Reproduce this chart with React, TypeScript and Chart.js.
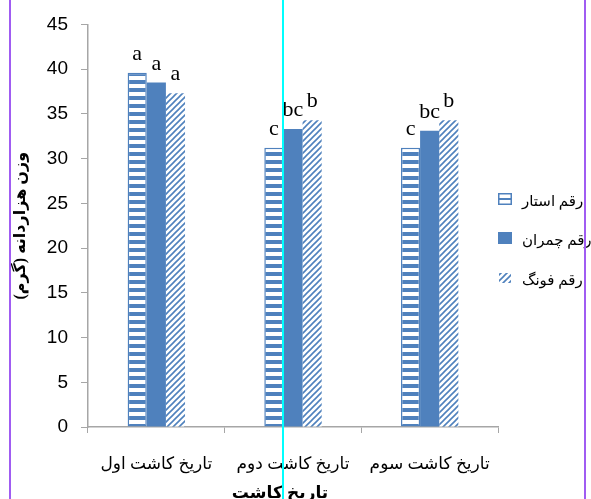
import React, { useEffect, useRef } from 'react';
import { Chart, registerables } from 'chart.js';

Chart.register(...registerables);

const categories = ['تاریخ کاشت اول', 'تاریخ کاشت دوم', 'تاریخ کاشت سوم'];
const seriesNames = ['رقم استار', 'رقم چمران', 'رقم فونگ'];
const starValues = [39.6, 31.2, 31.2];
const chamranValues = [38.5, 33.3, 33.1];
const fongValues = [37.3, 34.3, 34.3];
const starLetters = ['a', 'c', 'c'];
const chamranLetters = ['a', 'bc', 'bc'];
const fongLetters = ['a', 'b', 'b'];
const yMin = 0;
const yMax = 45;
const yStep = 5;
const yTitle = 'وزن هزاردانه (گرم)';
const xTitle = 'تاریخ کاشت';

const BLUE = '#4F81BD';
const AXIS = '#A6A6A6';
const ARABIC_FONT = "'Liberation Serif', 'DejaVu Sans', serif";

function makeStripePattern(ctx: CanvasRenderingContext2D) {
  const c = document.createElement('canvas');
  c.width = 8;
  c.height = 8;
  const p = c.getContext('2d')!;
  p.fillStyle = BLUE;
  p.fillRect(0, 0, 8, 8);
  p.fillStyle = '#FFFFFF';
  p.fillRect(0, 4, 8, 4);
  return ctx.createPattern(c, 'repeat')!;
}

function makeHatchPattern(ctx: CanvasRenderingContext2D) {
  const c = document.createElement('canvas');
  c.width = 6;
  c.height = 6;
  const p = c.getContext('2d')!;
  p.fillStyle = '#FFFFFF';
  p.fillRect(0, 0, 6, 6);
  p.strokeStyle = BLUE;
  p.lineWidth = 1.6;
  p.beginPath();
  p.moveTo(-1, 7);
  p.lineTo(7, -1);
  p.moveTo(-4, 4);
  p.lineTo(4, -4);
  p.moveTo(2, 10);
  p.lineTo(10, 2);
  p.stroke();
  return ctx.createPattern(c, 'repeat')!;
}

export default function App() {
  const ref = useRef<HTMLCanvasElement | null>(null);

  useEffect(() => {
    const canvas = ref.current!;
    const ctx = canvas.getContext('2d')!;
    const stripe = makeStripePattern(ctx);
    const hatch = makeHatchPattern(ctx);
    const letters = [starLetters, chamranLetters, fongLetters];

    const letterPlugin = {
      id: 'letters',
      afterDatasetsDraw(chart: any) {
        const c = chart.ctx;
        c.save();
        c.font = "22px 'Liberation Serif', serif";
        c.fillStyle = '#000';
        c.textAlign = 'center';
        c.textBaseline = 'alphabetic';
        chart.data.datasets.forEach((_: any, i: number) => {
          const meta = chart.getDatasetMeta(i);
          meta.data.forEach((bar: any, j: number) => {
            c.fillText(letters[i][j], bar.x, bar.y - 13);
          });
        });
        c.restore();
      },
    };

    const legendPlugin = {
      id: 'customLegend',
      afterDraw(chart: any) {
        const c = chart.ctx;
        const x = chart.chartArea.right;
        const rows = [199, 238, 278];
        c.save();
        c.fillStyle = BLUE;
        c.fillRect(x, rows[0] - 6, 14, 12);
        c.fillStyle = '#FFF';
        c.fillRect(x + 1.5, rows[0] - 4.5, 11, 3.5);
        c.fillRect(x + 1.5, rows[0] + 1, 11, 3.5);
        c.fillStyle = BLUE;
        c.fillRect(x, rows[1] - 6, 14, 12);
        c.fillStyle = hatch;
        c.fillRect(x + 1, rows[2] - 5, 12, 10);
        c.font = '15px ' + ARABIC_FONT;
        c.fillStyle = '#000';
        c.textAlign = 'left';
        c.textBaseline = 'middle';
        seriesNames.forEach((n, i) => {
          c.fillText(n, x + 24, rows[i] + 3);
        });
        // x-axis title, slightly left of the plot centre as in the original
        c.font = 'bold 17px ' + ARABIC_FONT;
        c.textAlign = 'center';
        c.textBaseline = 'middle';
        c.fillText(xTitle, chart.chartArea.left + 192, 494);
        c.restore();
      },
    };

    const chart = new Chart(canvas, {
      type: 'bar',
      data: {
        labels: categories,
        datasets: [
          {
            label: seriesNames[0],
            data: starValues,
            backgroundColor: stripe,
            borderColor: BLUE,
            borderWidth: 1.5,
            borderSkipped: false,
          },
          {
            label: seriesNames[1],
            data: chamranValues,
            backgroundColor: BLUE,
            borderWidth: 0,
          },
          {
            label: seriesNames[2],
            data: fongValues,
            backgroundColor: hatch,
            borderWidth: 0,
          },
        ],
      },
      options: {
        responsive: false,
        animation: false,
        events: [],
        layout: { padding: { top: 20, right: 93, bottom: 0, left: 0 } },
        datasets: {
          bar: { categoryPercentage: 0.42, barPercentage: 1.0 },
        },
        plugins: {
          legend: { display: false },
          tooltip: { enabled: false },
        },
        scales: {
          x: {
            grid: {
              display: true,
              drawOnChartArea: false,
              drawTicks: true,
              tickLength: 6,
              color: AXIS,
              offset: true,
            },
            border: { display: true, color: AXIS, width: 1.5 },
            ticks: {
              color: '#000',
              padding: 21,
              maxRotation: 0,
              font: { family: ARABIC_FONT, size: 17 },
            },
            title: { display: false },
            afterFit(scale: any) {
              scale.height = 72;
            },
          },
          y: {
            min: yMin,
            max: yMax,
            ticks: {
              stepSize: yStep,
              color: '#000',
              padding: 13,
              font: { family: "'Liberation Sans', sans-serif", size: 19 },
            },
            grid: {
              display: true,
              drawOnChartArea: false,
              drawTicks: true,
              tickLength: 7,
              color: AXIS,
            },
            border: { display: true, color: AXIS, width: 1.5 },
            title: {
              display: true,
              text: yTitle,
              color: '#000',
              font: { family: ARABIC_FONT, size: 16, weight: 'bold' },
              padding: { top: 11, bottom: 0 },
            },
            afterFit(scale: any) {
              scale.width = 88;
            },
          },
        },
      },
      plugins: [letterPlugin, legendPlugin],
    } as any);

    return () => chart.destroy();
  }, []);

  return (
    <div style={{ position: 'absolute', left: 0, top: 0, width: 591, height: 499, background: '#fff', overflow: 'hidden' }}>
      <canvas ref={ref} width={591} height={499} style={{ display: 'block', width: 591, height: 499 }} />
      <div style={{ position: 'absolute', left: 9, top: 0, width: 2, height: 499, background: '#A05CF2' }} />
      <div style={{ position: 'absolute', left: 584, top: 0, width: 2, height: 499, background: '#A05CF2' }} />
      <div style={{ position: 'absolute', left: 282, top: 0, width: 1.5, height: 499, background: '#00FFFF' }} />
    </div>
  );
}
